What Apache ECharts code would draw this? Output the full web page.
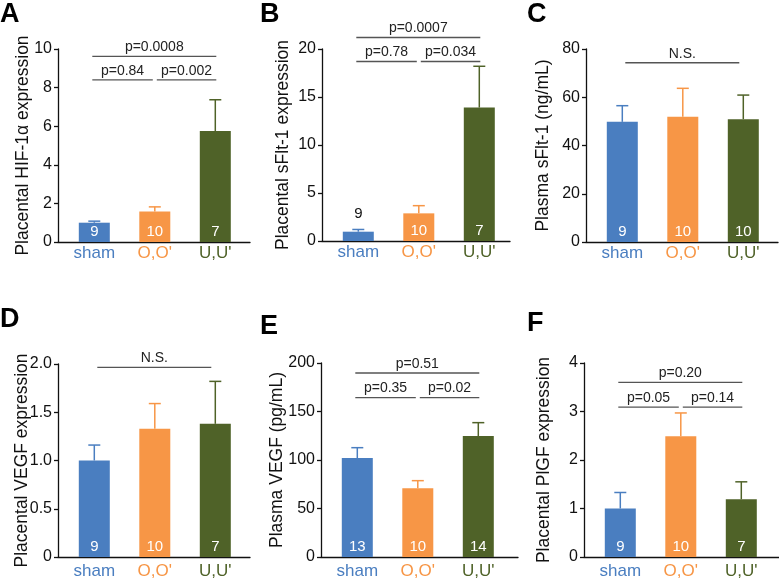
<!DOCTYPE html>
<html>
<head>
<meta charset="utf-8">
<script src="https://cdn.jsdelivr.net/npm/echarts@6/dist/echarts.min.js"></script>
<style>
  html, body { margin: 0; padding: 0; background: #fff; }
  #chart { width: 779px; height: 581px; }
</style>
</head>
<body>
<div id="chart"></div>
<script>
const groups = ['sham', "O,O'", "U,U'"]
const barColors = ['#4a7ec0', '#f79646', '#4f6228']

// A - placental HIF-1a
const hifMean = [1.0, 1.58, 5.75]
const hifErr = [0.08, 0.24, 1.62]
const hifN = [9, 10, 7]
const hifP = [[0, 1, 8.4, 'p=0.84'], [1, 2, 8.4, 'p=0.002'], [0, 2, 9.62, 'p=0.0008']]

// B - placental sFlt-1
const sfltMean = [0.97, 2.88, 13.9]
const sfltErr = [0.23, 0.8, 4.3]
const sfltN = [9, 10, 7]
const sfltP = [[0, 1, 18.7, 'p=0.78'], [1, 2, 18.7, 'p=0.034'], [0, 2, 21.2, 'p=0.0007']]

// C - plasma sFlt-1
const psfltMean = [49.8, 51.9, 50.9]
const psfltErr = [6.7, 11.8, 10.0]
const psfltN = [9, 10, 10]
const psfltP = [[0, 2, 74.3, 'N.S.']]

// D - placental VEGF
const vegfMean = [1.0, 1.33, 1.38]
const vegfErr = [0.16, 0.26, 0.44]
const vegfN = [9, 10, 7]
const vegfP = [[0, 2, 1.965, 'N.S.']]

// E - plasma VEGF
const pvegfMean = [102, 70.8, 124.7]
const pvegfErr = [10.7, 7.9, 13.8]
const pvegfN = [13, 10, 14]
const pvegfP = [[0, 1, 164.3, 'p=0.35'], [1, 2, 164.3, 'p=0.02'], [0, 2, 189.7, 'p=0.51']]

// F - placental PlGF
const plgfMean = [1.0, 2.49, 1.19]
const plgfErr = [0.33, 0.48, 0.36]
const plgfN = [9, 10, 7]
const plgfP = [[0, 1, 3.09, 'p=0.05'], [1, 2, 3.09, 'p=0.14'], [0, 2, 3.6, 'p=0.20']]

const font = 'Liberation Sans, Arial, sans-serif'
const ink = '#111'

const panels = [
  { letter: 'A', name: 'Placental HIF-1α expression', mean: hifMean, err: hifErr, n: hifN, p: hifP,
    max: 10, interval: 2, dec: 0, left: 58, top: 49, width: 192, height: 193, nameGap: 26,
    letterLeft: 0, letterTop: 1, labelMargin: 3 },
  { letter: 'B', name: 'Placental sFlt-1 expression', mean: sfltMean, err: sfltErr, n: sfltN, p: sfltP,
    max: 20, interval: 5, dec: 0, left: 322, top: 49, width: 188, height: 192, nameGap: 30,
    letterLeft: 260, letterTop: 1, labelMargin: 3 },
  { letter: 'C', name: 'Plasma sFlt-1 (ng/mL)', mean: psfltMean, err: psfltErr, n: psfltN, p: psfltP,
    max: 80, interval: 20, dec: 0, left: 586, top: 49, width: 192, height: 193, nameGap: 34,
    letterLeft: 527, letterTop: 1, labelMargin: 3 },
  { letter: 'D', name: 'Placental VEGF expression', mean: vegfMean, err: vegfErr, n: vegfN, p: vegfP,
    max: 2, interval: 0.5, dec: 1, left: 58, top: 364, width: 192, height: 193, nameGap: 27,
    letterLeft: 0, letterTop: 306, labelMargin: 6 },
  { letter: 'E', name: 'Plasma VEGF (pg/mL)', mean: pvegfMean, err: pvegfErr, n: pvegfN, p: pvegfP,
    max: 200, interval: 50, dec: 0, left: 321, top: 363, width: 197, height: 194, nameGap: 35,
    letterLeft: 260, letterTop: 313, labelMargin: 6 },
  { letter: 'F', name: 'Placental PlGF expression', mean: plgfMean, err: plgfErr, n: plgfN, p: plgfP,
    max: 4, interval: 1, dec: 0, left: 584, top: 363, width: 195, height: 194, nameGap: 31,
    letterLeft: 527, letterTop: 310, labelMargin: 6 }
]

const rich = {}
groups.forEach((g, i) => {
  rich['g' + i] = { color: barColors[i], fontSize: 17, fontFamily: font }
})

const option = {
  animation: false,
  backgroundColor: '#fff',
  textStyle: { fontFamily: font },
  title: [],
  grid: [],
  xAxis: [],
  yAxis: [],
  series: []
}

panels.forEach((p, k) => {
  option.title.push({
    text: p.letter, left: p.letterLeft, top: p.letterTop, padding: 0,
    textStyle: { fontSize: 27, fontWeight: 'bold', color: '#000', fontFamily: font }
  })
  option.grid.push({
    left: p.left, top: p.top, width: p.width, height: p.height,
    containLabel: false, outerBoundsMode: 'none'
  })
  option.xAxis.push({
    gridIndex: k, type: 'value', min: -0.6, max: p.width / 60.5 - 0.6,
    axisLine: { show: true, onZero: false, lineStyle: { color: ink, width: 1.3 } },
    axisTick: { show: false },
    splitLine: { show: false },
    axisLabel: {
      customValues: [0, 1, 2], margin: p.labelMargin,
      formatter: v => `{g${v}|${groups[v]}}`, rich: rich
    }
  })
  option.yAxis.push({
    gridIndex: k, type: 'value', min: 0, max: p.max, interval: p.interval,
    name: p.name, nameLocation: 'middle', nameGap: p.nameGap, nameMoveOverlap: false,
    nameTextStyle: { fontSize: 17.5, color: ink, fontFamily: font },
    axisLine: { show: true, onZero: false, lineStyle: { color: ink, width: 1.3 } },
    axisTick: { show: true, length: 4, lineStyle: { color: ink, width: 1.3 } },
    splitLine: { show: false },
    axisLabel: {
      fontSize: 16, color: ink, margin: 6,
      formatter: v => (v === 0 ? '0' : v.toFixed(p.dec))
    }
  })

  // bars with n labels
  option.series.push({
    type: 'bar', xAxisIndex: k, yAxisIndex: k, barWidth: 31,
    data: p.mean.map((m, i) => {
      const tooShort = m / p.max * p.height < 14
      return {
        value: [i, m],
        itemStyle: { color: barColors[i] },
        label: tooShort
          ? { show: true, position: 'top', distance: 10, color: ink }
          : { show: true, position: 'insideBottom', distance: 3, color: '#fff' }
      }
    }),
    label: {
      show: true, fontSize: 15, fontFamily: font,
      formatter: params => String(p.n[params.dataIndex])
    }
  })

  // upper error bars
  option.series.push({
    type: 'custom', xAxisIndex: k, yAxisIndex: k, clip: false,
    data: p.mean.map((m, i) => [i, m, p.err[i]]),
    encode: { x: 0, y: 1 },
    renderItem: (params, api) => {
      const x = api.value(0)
      const base = api.coord([x, api.value(1)])
      const top = api.coord([x, api.value(1) + api.value(2)])
      const style = { stroke: barColors[params.dataIndex], lineWidth: 1.5 }
      return {
        type: 'group',
        children: [
          { type: 'line', shape: { x1: base[0], y1: base[1], x2: top[0], y2: top[1] }, style },
          { type: 'line', shape: { x1: top[0] - 6, y1: top[1], x2: top[0] + 6, y2: top[1] }, style }
        ]
      }
    }
  })

  // significance brackets
  option.series.push({
    type: 'custom', xAxisIndex: k, yAxisIndex: k, clip: false,
    data: p.p.map(b => [b[0], b[1], b[2]]),
    encode: { x: [0, 1], y: 2 },
    renderItem: (params, api) => {
      const b = p.p[params.dataIndex]
      const a = api.coord([b[0], b[2]])
      const c = api.coord([b[1], b[2]])
      let x1 = a[0] - 2
      let x2 = c[0] + 1
      if (b[0] === 1) x1 = a[0] + 2
      if (b[1] === 1) x2 = c[0] - 2
      if (b[3] === 'N.S.') { x1 += 5; x2 -= 5 }
      return {
        type: 'group',
        children: [
          { type: 'line', shape: { x1: x1, y1: a[1], x2: x2, y2: a[1] },
            style: { stroke: '#555', lineWidth: 1.3 } },
          { type: 'text', x: (x1 + x2) / 2, y: a[1] - 2,
            style: { text: b[3], fontSize: 14, fontFamily: font, fill: '#222',
              align: 'center', verticalAlign: 'bottom' } }
        ]
      }
    }
  })
})

const chart = echarts.init(document.getElementById('chart'))
chart.setOption(option)
window.addEventListener('resize', () => chart.resize())
</script>
</body>
</html>
